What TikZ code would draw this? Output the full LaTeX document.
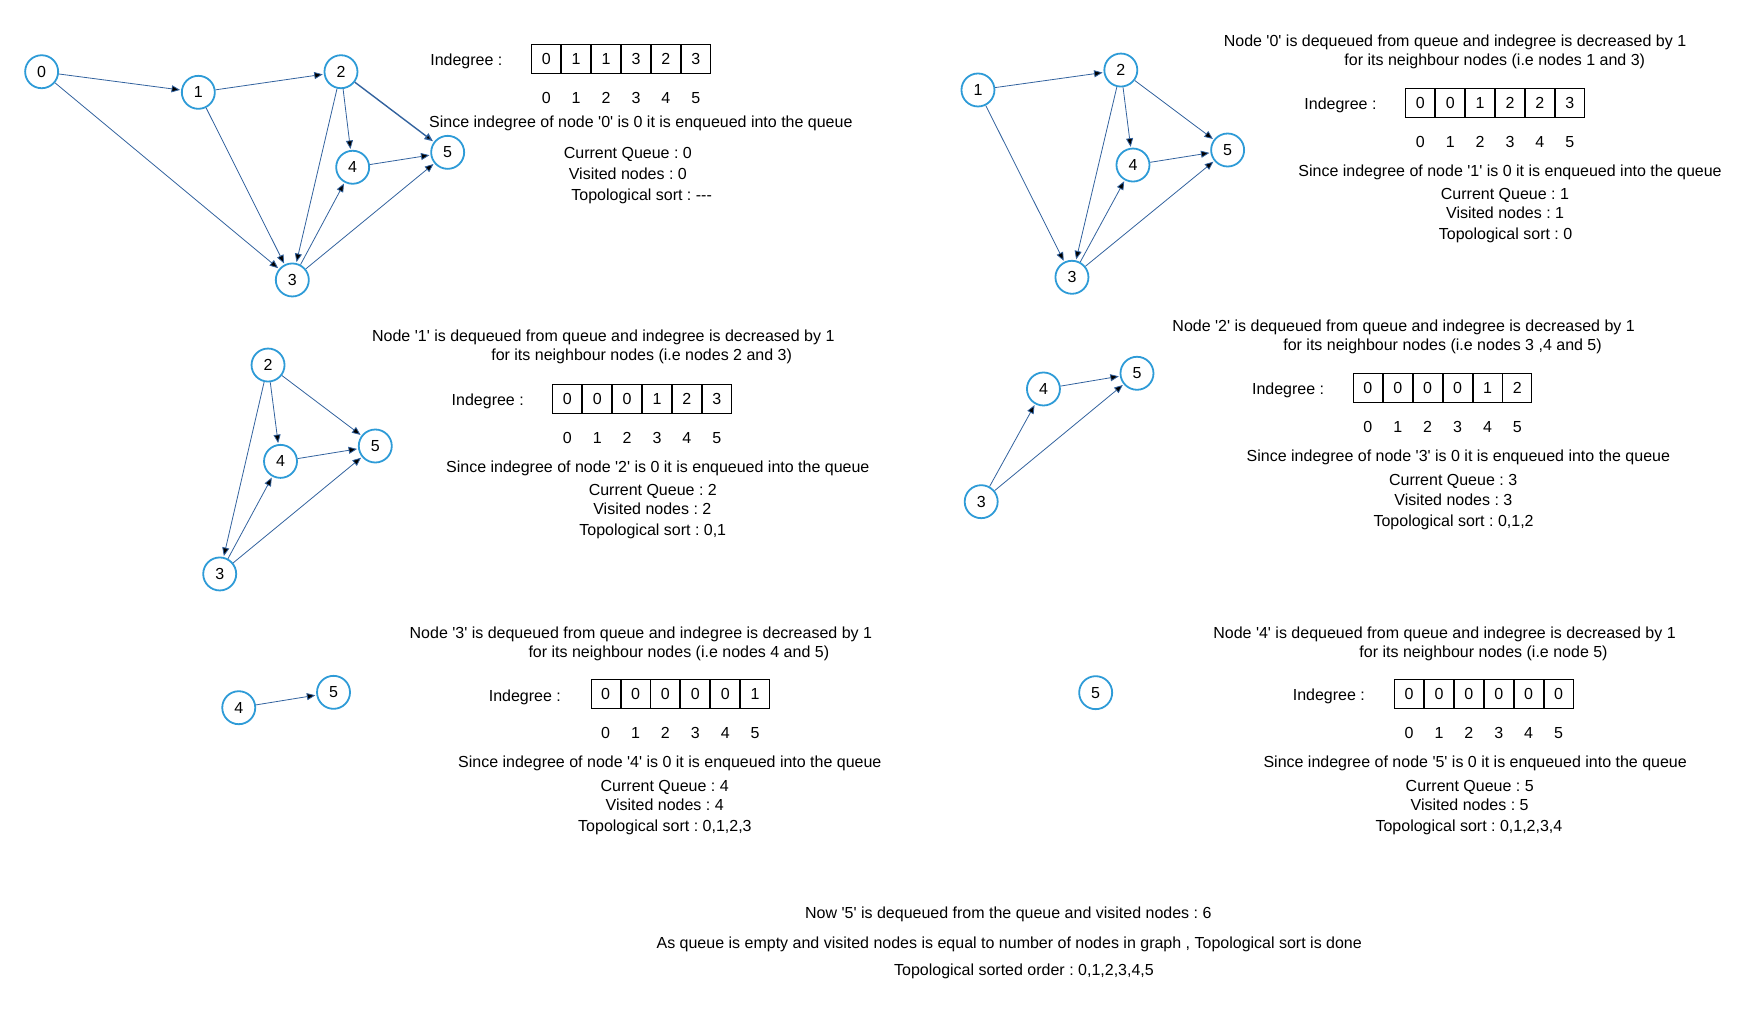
\documentclass[tikz,border=0pt]{standalone}
\usepackage{fontspec}
\setmainfont{Liberation Sans}
\usepackage{tikz}
\usetikzlibrary{arrows.meta}
\usetikzlibrary{matrix}
\definecolor{ringblue}{RGB}{46,155,215}
\definecolor{edgeblue}{RGB}{50,98,158}
\newcommand{\nq}[1]{\textquotesingle#1\textquotesingle}
\frenchspacing

\begin{document}
\begin{tikzpicture}[x=1.1136pt, y=-1.1136pt,
        every node/.style = {font=\fontsize{16pt}{19pt}\selectfont},
        vertex/.style = {circle, draw=ringblue, line width=1.8pt, minimum size=33pt, inner sep=0pt},
        link/.style = {draw=edgeblue, line width=0.8pt, -{Triangle[length=8.5pt,width=7pt]}, shorten >=1pt},
        txt/.style = {inner sep=0pt, text height=14pt, text depth=2pt},
        degrees/.style = {matrix of nodes, anchor=north west, inner sep=0pt, outer sep=0pt, row sep=9.5pt,
            nodes = {minimum width=29pt, minimum height=29.5pt, inner sep=0pt, outer sep=0pt},
            row 1/.style = {nodes = {draw, line width=0.9pt, minimum height=28.6pt}}}
        ]
        \useasboundingbox (0,0) rectangle (1567,905.2);

        \node[vertex] (a0) at (37.4,64.4) {0};
        \node[vertex] (a1) at (178.1,82.9) {1};
        \node[vertex] (a2) at (306.2,64.4) {2};
        \node[vertex] (a4) at (316.7,150.2) {4};
        \node[vertex] (a5) at (402,136.8) {5};
        \node[vertex] (a3) at (262.5,251.4) {3};
        \draw[link] (a0) edge (a1) edge (a3);
        \draw[link] (a1) edge (a2) edge (a3);
        \draw[link] (a2) edge (a3) edge (a4) edge[line width=1.4pt] (a5);
        \draw[link] (a4) edge (a5);
        \draw[link] (a3) edge (a4) edge (a5);
        \node[txt] (label1) at (418.8,53.3) {Indegree :};
        \matrix (deg1) [degrees] at (477.1,39.8) {0 & 1 & 1 & 3 & 2 & 3\\ 0 & 1 & 2 & 3 & 4 & 5\\};
        \node[txt] (since1) at (575.5,109.3) {Since indegree of node \nq{0} is 0 it is enqueued into the queue};
        \node[txt] (queue1) at (563.8,137.1) {Current Queue : 0};
        \node[txt] (visited1) at (563.8,155.6) {Visited nodes : 0};
        \node[txt] (sort1) at (576.2,175.1) {Topological sort : \hbox{-}\hbox{-}\hbox{-}};

        \node[vertex] (b1) at (878.2,80.8) {1};
        \node[vertex] (b2) at (1006.5,62.9) {2};
        \node[vertex] (b4) at (1017.4,148.2) {4};
        \node[vertex] (b5) at (1102.4,134.7) {5};
        \node[vertex] (b3) at (962.6,249) {3};
        \draw[link] (b1) edge (b2) edge (b3);
        \draw[link] (b2) edge (b3) edge (b4) edge (b5);
        \draw[link] (b4) edge (b5);
        \draw[link] (b3) edge (b4) edge (b5);
        \node[txt] (head2a) at (1306.6,36.5) {Node \nq{0} is dequeued from queue and indegree is decreased by 1};
        \node[txt] (head2b) at (1342.3,53) {for its neighbour nodes (i.e nodes 1 and 3)};
        \node[txt] (label2) at (1203.7,92.8) {Indegree :};
        \matrix (deg2) [degrees] at (1262,79.3) {0 & 0 & 1 & 2 & 2 & 3\\ 0 & 1 & 2 & 3 & 4 & 5\\};
        \node[txt] (since2) at (1356,153.3) {Since indegree of node \nq{1} is 0 it is enqueued into the queue};
        \node[txt] (queue2) at (1351.4,173.6) {Current Queue : 1};
        \node[txt] (visited2) at (1351.6,190.7) {Visited nodes : 1};
        \node[txt] (sort2) at (1352,210.1) {Topological sort : 0};

        \node[vertex] (c2) at (240.7,327.8) {2};
        \node[vertex] (c4) at (251.9,414.3) {4};
        \node[vertex] (c5) at (337,400.5) {5};
        \node[vertex] (c3) at (197.3,515.4) {3};
        \draw[link] (c2) edge (c4) edge (c5) edge (c3);
        \draw[link] (c4) edge (c5);
        \draw[link] (c3) edge (c4) edge (c5);
        \node[txt] (head3a) at (541.8,301.7) {Node \nq{1} is dequeued from queue and indegree is decreased by 1};
        \node[txt] (head3b) at (576.2,318.2) {for its neighbour nodes (i.e nodes 2 and 3)};
        \node[txt] (label3) at (438,358.6) {Indegree :};
        \matrix (deg3) [degrees] at (496,345.1) {0 & 0 & 0 & 1 & 2 & 3\\ 0 & 1 & 2 & 3 & 4 & 5\\};
        \node[txt] (since3) at (590.7,418.5) {Since indegree of node \nq{2} is 0 it is enqueued into the queue};
        \node[txt] (queue3) at (586.2,439.4) {Current Queue : 2};
        \node[txt] (visited3) at (585.8,456.5) {Visited nodes : 2};
        \node[txt] (sort3) at (586.2,475.9) {Topological sort : 0,1};

        \node[vertex] (d4) at (937,349.3) {4};
        \node[vertex] (d5) at (1021,335.2) {5};
        \node[vertex] (d3) at (881.1,450.5) {3};
        \draw[link] (d4) edge (d5);
        \draw[link] (d3) edge (d4) edge (d5);
        \node[txt] (head4a) at (1260.5,292.5) {Node \nq{2} is dequeued from queue and indegree is decreased by 1};
        \node[txt] (head4b) at (1295.4,309.2) {for its neighbour nodes (i.e nodes 3 ,4 and 5)};
        \node[txt] (label4) at (1156.7,349.3) {Indegree :};
        \matrix (deg4) [degrees] at (1214.9,335.2) {0 & 0 & 0 & 0 & 1 & 2\\ 0 & 1 & 2 & 3 & 4 & 5\\};
        \node[txt] (since4) at (1309.6,409.2) {Since indegree of node \nq{3} is 0 it is enqueued into the queue};
        \node[txt] (queue4) at (1304.9,431) {Current Queue : 3};
        \node[txt] (visited4) at (1305.1,448.1) {Visited nodes : 3};
        \node[txt] (sort4) at (1305.3,467) {Topological sort : 0,1,2};

        \node[vertex] (e4) at (214.4,635.5) {4};
        \node[vertex] (e5) at (299.5,621.7) {5};
        \draw[link] (e4) edge (e5);
        \node[txt] (head5a) at (575.5,567.8) {Node \nq{3} is dequeued from queue and indegree is decreased by 1};
        \node[txt] (head5b) at (609.6,585.2) {for its neighbour nodes (i.e nodes 4 and 5)};
        \node[txt] (label5) at (471.3,624.1) {Indegree :};
        \matrix (deg5) [degrees] at (530.4,610) {0 & 0 & 0 & 0 & 0 & 1\\ 0 & 1 & 2 & 3 & 4 & 5\\};
        \node[txt] (since5) at (601.5,684) {Since indegree of node \nq{4} is 0 it is enqueued into the queue};
        \node[txt] (queue5) at (596.9,705.5) {Current Queue : 4};
        \node[txt] (visited5) at (596.9,722.3) {Visited nodes : 4};
        \node[txt] (sort5) at (597.1,741.4) {Topological sort : 0,1,2,3};

        \node[vertex] (f5) at (983.9,622) {5};
        \node[txt] (head6a) at (1297.2,567.8) {Node \nq{4} is dequeued from queue and indegree is decreased by 1};
        \node[txt] (head6b) at (1332.2,585.2) {for its neighbour nodes (i.e node 5)};
        \node[txt] (label6) at (1193.3,623.2) {Indegree :};
        \matrix (deg6) [degrees] at (1251.9,610) {0 & 0 & 0 & 0 & 0 & 0\\ 0 & 1 & 2 & 3 & 4 & 5\\};
        \node[txt] (since6) at (1324.7,684) {Since indegree of node \nq{5} is 0 it is enqueued into the queue};
        \node[txt] (queue6) at (1319.8,705.5) {Current Queue : 5};
        \node[txt] (visited6) at (1319.7,722.3) {Visited nodes : 5};
        \node[txt] (sort6) at (1319.1,741.4) {Topological sort : 0,1,2,3,4};

        \node[txt] (done1) at (905.5,819.3) {Now \nq{5} is dequeued from the queue and visited nodes : 6};
        \node[txt] (done2) at (906.3,846.2) {As queue is empty and visited nodes is equal to number of nodes in graph , Topological sort is done};
        \node[txt] (done3) at (919.5,870.2) {Topological sorted order : 0,1,2,3,4,5};
\end{tikzpicture}
\end{document}
